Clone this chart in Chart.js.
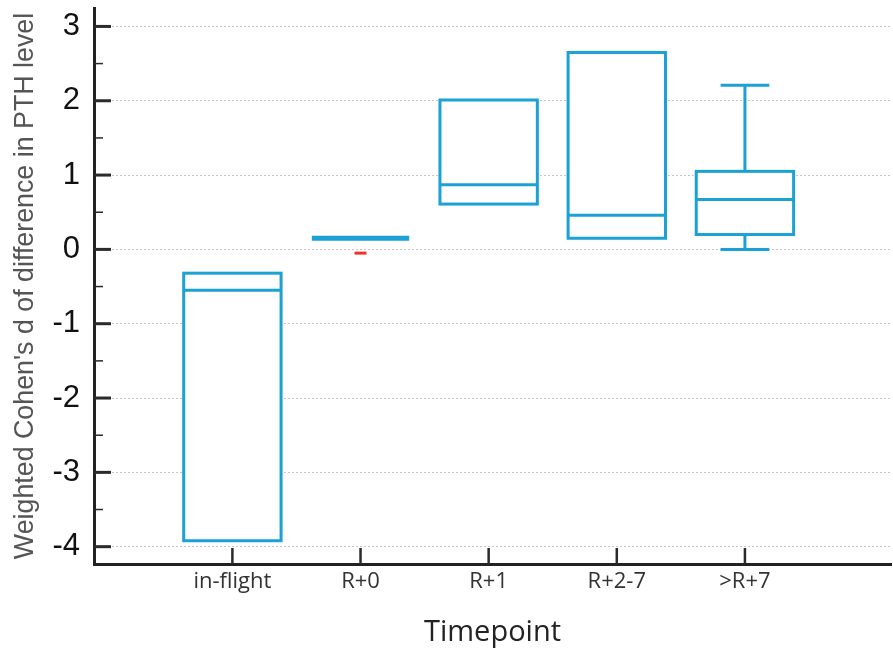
<!DOCTYPE html>
<html>
<head>
<meta charset="utf-8">
<script src="https://cdn.jsdelivr.net/npm/chart.js@4/dist/chart.umd.min.js"></script>
<style>
  html, body { margin: 0; padding: 0; background: #fff; }
  #wrap { width: 893px; height: 652px; }
</style>
</head>
<body>
<div id="wrap"><canvas id="grafica" width="893" height="652"></canvas></div>
<script>
// Datos
const categorias = ['in-flight', 'R+0', 'R+1', 'R+2-7', '>R+7'];
const q1 = [-3.92, 0.15, 0.61, 0.15, 0.20];
const mediana = [-0.55, 0.15, 0.87, 0.46, 0.67];
const q3 = [-0.32, 0.15, 2.01, 2.65, 1.05];
const bigoteMin = [null, null, null, null, 0.00];
const bigoteMax = [null, null, null, null, 2.21];
const marcaRoja = [null, -0.05, null, null, null];

const colorCaja = '#1ba1d3';

// dibuja las cajas con las escalas del grafico
const cajasPlugin = {
    id: 'cajas',
    beforeDatasetsDraw(chart) {
        const { ctx, scales: { x, y }, chartArea } = chart;
        ctx.save();
        ctx.beginPath();
        ctx.rect(chartArea.left, chartArea.top, chartArea.right - chartArea.left, chartArea.bottom - chartArea.top);
        ctx.clip();
        ctx.strokeStyle = colorCaja;
        ctx.lineCap = 'butt';
        categorias.forEach((c, i) => {
            const pos = i + 1;
            const xl = x.getPixelForValue(pos - 0.38);
            const xr = x.getPixelForValue(pos + 0.38);
            const xc = x.getPixelForValue(pos);
            const yq1 = y.getPixelForValue(q1[i]);
            const yq3 = y.getPixelForValue(q3[i]);
            const ym = y.getPixelForValue(mediana[i]);

            if (q1[i] === q3[i]) {
                // caja sin altura: solo una linea gruesa
                ctx.lineWidth = 5;
                ctx.beginPath();
                ctx.moveTo(xl, ym);
                ctx.lineTo(xr, ym);
                ctx.stroke();
                return;
            }

            ctx.lineWidth = 3;
            // bigotes
            if (bigoteMax[i] !== null) {
                const yw = y.getPixelForValue(bigoteMax[i]);
                ctx.beginPath();
                ctx.moveTo(xc, yq3);
                ctx.lineTo(xc, yw);
                ctx.moveTo(x.getPixelForValue(pos - 0.19), yw);
                ctx.lineTo(x.getPixelForValue(pos + 0.19), yw);
                ctx.stroke();
            }
            if (bigoteMin[i] !== null) {
                const yw = y.getPixelForValue(bigoteMin[i]);
                ctx.beginPath();
                ctx.moveTo(xc, yq1);
                ctx.lineTo(xc, yw);
                ctx.moveTo(x.getPixelForValue(pos - 0.19), yw);
                ctx.lineTo(x.getPixelForValue(pos + 0.19), yw);
                ctx.stroke();
            }
            ctx.fillStyle = '#fff';
            ctx.fillRect(xl, yq3, xr - xl, yq1 - yq3);
            ctx.strokeRect(xl, yq3, xr - xl, yq1 - yq3);
            ctx.beginPath();
            ctx.moveTo(xl, ym);
            ctx.lineTo(xr, ym);
            ctx.stroke();
        });
        ctx.restore();
    },
    afterDraw(chart) {
        // marcas de los ejes hacia dentro
        const { ctx, scales: { x, y }, chartArea } = chart;
        ctx.save();
        ctx.strokeStyle = '#2a2a2a';
        y.ticks.forEach(t => {
            const py = y.getPixelForValue(t.value);
            ctx.lineWidth = 3;
            ctx.beginPath();
            ctx.moveTo(chartArea.left, py);
            ctx.lineTo(chartArea.left + 17, py);
            ctx.stroke();
            const mv = t.value + 0.5;
            if (mv < y.max) {
                const pm = y.getPixelForValue(mv);
                ctx.lineWidth = 1.5;
                ctx.beginPath();
                ctx.moveTo(chartArea.left, pm);
                ctx.lineTo(chartArea.left + 9, pm);
                ctx.stroke();
            }
        });
        x.ticks.forEach(t => {
            const px = x.getPixelForValue(t.value);
            ctx.lineWidth = 2.5;
            ctx.beginPath();
            ctx.moveTo(px, chartArea.bottom);
            ctx.lineTo(px, chartArea.bottom - 16);
            ctx.stroke();
        });
        ctx.restore();
    }
};

const ctx = document.getElementById('grafica').getContext('2d');
new Chart(ctx, {
    type: 'scatter',
    data: {
        datasets: [{
            label: 'marca',
            data: marcaRoja.map((v, i) => v === null ? null : { x: i + 1, y: v }).filter(p => p !== null),
            pointStyle: 'line',
            radius: 6,
            borderWidth: 3,
            borderColor: '#f0302a',
            backgroundColor: '#f0302a'
        }]
    },
    options: {
        responsive: false,
        animation: false,
        devicePixelRatio: 1,
        layout: { autoPadding: false, padding: { top: 8, right: 2, left: 0, bottom: 0 } },
        plugins: {
            legend: { display: false },
            tooltip: { enabled: false }
        },
        scales: {
            x: {
                type: 'linear',
                min: -0.08,
                max: 6.14,
                afterBuildTicks: (scale) => {
                    scale.ticks = categorias.map((c, i) => ({ value: i + 1 }));
                },
                afterFit: (scale) => {
                    scale.height = 88;
                    scale.paddingLeft = 0;
                    scale.paddingRight = 0;
                },
                grid: { display: false, drawTicks: false },
                border: { display: true, width: 3, color: '#222' },
                ticks: {
                    callback: (v) => categorias[v - 1],
                    font: { family: 'Open Sans', size: 22 },
                    color: '#333',
                    padding: 5,
                    maxRotation: 0,
                    autoSkip: false
                },
                title: {
                    display: true,
                    text: 'Timepoint',
                    font: { family: 'Open Sans', size: 29 },
                    color: '#222',
                    padding: { top: 0, bottom: 2 }
                }
            },
            y: {
                min: -4.233,
                max: 3.248,
                afterFit: (scale) => {
                    scale.width = 94;
                    scale.paddingTop = 0;
                    scale.paddingBottom = 0;
                },
                grid: { color: '#c4c4c4', lineWidth: 1, drawTicks: false },
                border: { display: true, width: 3, color: '#222', dash: [2, 2] },
                ticks: {
                    stepSize: 1,
                    includeBounds: false,
                    font: { family: 'Liberation Sans', size: 31 },
                    color: '#111',
                    padding: 14
                },
                title: {
                    display: true,
                    text: "Weighted Cohen's d of difference in PTH level",
                    font: { family: 'Liberation Sans', size: 26.8 },
                    color: '#555',
                    padding: { top: 10, bottom: 0 }
                }
            }
        }
    },
    plugins: [cajasPlugin]
});
</script>
</body>
</html>
